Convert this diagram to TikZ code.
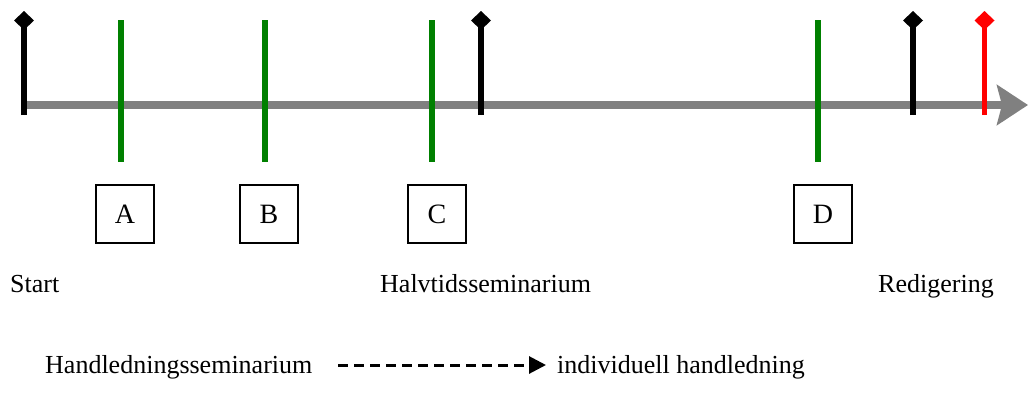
\documentclass[tikz,border=0pt]{standalone}
\usepackage{fontspec}
\setmainfont{Liberation Serif}
\usetikzlibrary{arrows.meta}
\definecolor{axisgray}{RGB}{128,128,128}
\definecolor{milegreen}{RGB}{0,128,0}
\definecolor{milered}{RGB}{255,0,0}
\begin{document}
\begin{tikzpicture}[x=1pt,y=-1pt,
  axisline/.style={draw=axisgray,line width=7.5pt,-{Stealth[length=31pt,width=40pt,inset=5pt]}},
  milestone/.style={line width=5.5pt,-{Diamond[length=19pt,width=20pt]}},
  seminar/.style={draw=milegreen,line width=5.5pt},
  letterbox/.style={draw,line width=1.3pt,minimum width=58pt,minimum height=58pt,inner sep=0pt,font=\fontsize{28}{32}\selectfont},
  lbl/.style={anchor=base west,inner sep=0pt,font=\fontsize{26}{30}\selectfont},
  legendarrow/.style={line width=3pt,dash pattern=on 10pt off 6pt,-{Triangle[length=17pt,width=17pt]}}
]
\useasboundingbox (0,0) rectangle (1028,392);
% axis
\coordinate (axS) at (27,105);
\coordinate (axE) at (1028,105);
\draw[axisline] (axS) -- (axE);
% green seminar lines
\foreach \n/\x in {a/121,b/265,c/432,d/818}{
  \coordinate (g\n t) at (\x,20);
  \coordinate (g\n b) at (\x,162);
  \draw[seminar] (g\n t) -- (g\n b);
}
% milestones
\foreach \n/\x/\c in {m1/24/black,m2/481/black,m3/913/black,m4/984.5/milered}{
  \coordinate (\n b) at (\x,115);
  \coordinate (\n t) at (\x,11);
  \draw[milestone,draw=\c,fill=\c] (\n b) -- (\n t);
}
% boxes
\node[letterbox] (A) at (125,214) {A};
\node[letterbox] (B) at (269,214) {B};
\node[letterbox] (C) at (437,214) {C};
\node[letterbox] (D) at (823,214) {D};
% labels
\node[lbl] (start) at (10,292) {Start};
\node[lbl] (halv) at (380,292) {Halvtidsseminarium};
\node[lbl] (red) at (878,292) {Redigering};
% legend
\node[lbl] (hs) at (45,373) {Handledningsseminarium};
\node[lbl] (ih) at (557,373) {individuell handledning};
\coordinate (la) at (338,365);
\coordinate (lb) at (546,365);
\draw[legendarrow] (la) -- (lb);
\end{tikzpicture}
\end{document}
